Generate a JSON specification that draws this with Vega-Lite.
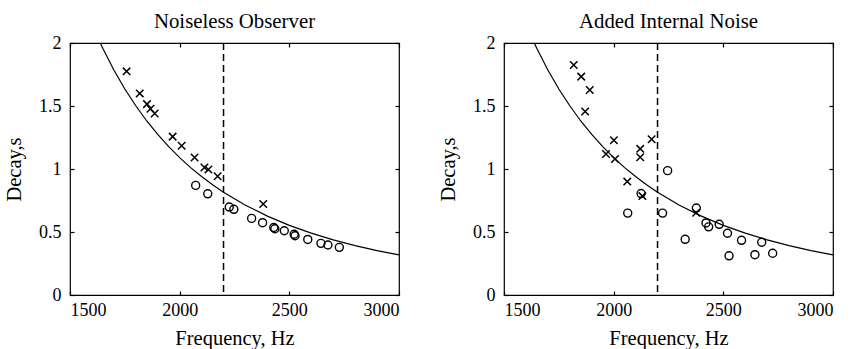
{
  "$schema": "https://vega.github.io/schema/vega-lite/v6.json",
  "background": "white",
  "padding": {"left": 3, "top": 10, "right": 5, "bottom": 0},
  "config": {
    "font": "Liberation Serif",
    "view": {"stroke": "black", "strokeWidth": 1.2},
    "axis": {
      "grid": false,
      "domain": false,
      "labelFont": "Liberation Serif",
      "titleFont": "Liberation Serif",
      "labelFontSize": 18,
      "titleFontSize": 20.5,
      "titleFontWeight": "normal",
      "labelColor": "black",
      "titleColor": "black",
      "tickColor": "black",
      "tickSize": 4,
      "offset": -4,
      "tickWidth": 1.2,
      "format": "~g"
    },
    "title": {"font": "Liberation Serif", "fontSize": 20.8, "fontWeight": "normal", "color": "black", "anchor": "middle", "offset": 1},
    "concat": {"spacing": 35}
  },
  "datasets": {
    "curve": [
      {"freq": 1638, "decay": 2.0},
      {"freq": 1650, "decay": 1.956},
      {"freq": 1700, "decay": 1.786},
      {"freq": 1750, "decay": 1.635},
      {"freq": 1800, "decay": 1.502},
      {"freq": 1850, "decay": 1.381},
      {"freq": 1900, "decay": 1.274},
      {"freq": 1950, "decay": 1.177},
      {"freq": 2000, "decay": 1.090},
      {"freq": 2050, "decay": 1.011},
      {"freq": 2100, "decay": 0.940},
      {"freq": 2150, "decay": 0.875},
      {"freq": 2200, "decay": 0.816},
      {"freq": 2300, "decay": 0.713},
      {"freq": 2400, "decay": 0.626},
      {"freq": 2500, "decay": 0.553},
      {"freq": 2600, "decay": 0.491},
      {"freq": 2700, "decay": 0.438},
      {"freq": 2800, "decay": 0.392},
      {"freq": 2900, "decay": 0.352},
      {"freq": 3000, "decay": 0.318}
    ],
    "split": [{"freq": 2200}],
    "noiseless": [
      {"freq": 1758, "decay": 1.775, "marker": "x"},
      {"freq": 1818, "decay": 1.600, "marker": "x"},
      {"freq": 1851, "decay": 1.515, "marker": "x"},
      {"freq": 1867, "decay": 1.478, "marker": "x"},
      {"freq": 1886, "decay": 1.440, "marker": "x"},
      {"freq": 1968, "decay": 1.257, "marker": "x"},
      {"freq": 2009, "decay": 1.184, "marker": "x"},
      {"freq": 2068, "decay": 1.091, "marker": "x"},
      {"freq": 2113, "decay": 1.012, "marker": "x"},
      {"freq": 2131, "decay": 0.996, "marker": "x"},
      {"freq": 2173, "decay": 0.942, "marker": "x"},
      {"freq": 2381, "decay": 0.722, "marker": "x"},
      {"freq": 2073, "decay": 0.870, "marker": "o"},
      {"freq": 2128, "decay": 0.803, "marker": "o"},
      {"freq": 2226, "decay": 0.698, "marker": "o"},
      {"freq": 2247, "decay": 0.680, "marker": "o"},
      {"freq": 2328, "decay": 0.608, "marker": "o"},
      {"freq": 2378, "decay": 0.574, "marker": "o"},
      {"freq": 2429, "decay": 0.536, "marker": "o"},
      {"freq": 2434, "decay": 0.526, "marker": "o"},
      {"freq": 2477, "decay": 0.510, "marker": "o"},
      {"freq": 2522, "decay": 0.482, "marker": "o"},
      {"freq": 2526, "decay": 0.470, "marker": "o"},
      {"freq": 2584, "decay": 0.441, "marker": "o"},
      {"freq": 2644, "decay": 0.410, "marker": "o"},
      {"freq": 2676, "decay": 0.397, "marker": "o"},
      {"freq": 2728, "decay": 0.378, "marker": "o"}
    ],
    "noise": [
      {"freq": 1818, "decay": 1.825, "marker": "x"},
      {"freq": 1852, "decay": 1.733, "marker": "x"},
      {"freq": 1891, "decay": 1.627, "marker": "x"},
      {"freq": 1870, "decay": 1.457, "marker": "x"},
      {"freq": 1965, "decay": 1.119, "marker": "x"},
      {"freq": 2001, "decay": 1.228, "marker": "x"},
      {"freq": 2006, "decay": 1.080, "marker": "x"},
      {"freq": 2062, "decay": 0.900, "marker": "x"},
      {"freq": 2121, "decay": 1.160, "marker": "x"},
      {"freq": 2121, "decay": 1.093, "marker": "x"},
      {"freq": 2173, "decay": 1.236, "marker": "x"},
      {"freq": 2131, "decay": 0.785, "marker": "x"},
      {"freq": 2376, "decay": 0.653, "marker": "x"},
      {"freq": 2064, "decay": 0.650, "marker": "o"},
      {"freq": 2125, "decay": 0.805, "marker": "o"},
      {"freq": 2246, "decay": 0.987, "marker": "o"},
      {"freq": 2223, "decay": 0.650, "marker": "o"},
      {"freq": 2326, "decay": 0.442, "marker": "o"},
      {"freq": 2377, "decay": 0.690, "marker": "o"},
      {"freq": 2421, "decay": 0.572, "marker": "o"},
      {"freq": 2433, "decay": 0.541, "marker": "o"},
      {"freq": 2481, "decay": 0.561, "marker": "o"},
      {"freq": 2519, "decay": 0.490, "marker": "o"},
      {"freq": 2526, "decay": 0.311, "marker": "o"},
      {"freq": 2583, "decay": 0.434, "marker": "o"},
      {"freq": 2644, "decay": 0.320, "marker": "o"},
      {"freq": 2675, "decay": 0.419, "marker": "o"},
      {"freq": 2725, "decay": 0.331, "marker": "o"}
    ]
  },
  "hconcat": [
    {
      "title": "Noiseless Observer",
      "width": 329,
      "height": 252,
      "layer": [
        {
          "data": {"name": "curve"},
          "mark": {"type": "line", "color": "black", "strokeWidth": 1.2},
          "encoding": {
            "x": {"field": "freq", "type": "quantitative", "scale": {"domain": [1500, 3000], "nice": false}, "axis": {"orient": "bottom", "title": "Frequency, Hz", "values": [1500, 2000, 2500, 3000], "format": "d", "labelPadding": 6, "titlePadding": 9}},
            "y": {"field": "decay", "type": "quantitative", "scale": {"domain": [0, 2], "nice": false}, "axis": {"orient": "left", "title": "Decay,s", "values": [0, 0.5, 1, 1.5, 2], "labelPadding": 9, "titlePadding": 14}}
          }
        },
        {
          "data": {"name": "split"},
          "mark": {"type": "rule", "color": "black", "strokeWidth": 1.5, "strokeDash": [7, 4]},
          "encoding": {
            "x": {"field": "freq", "type": "quantitative", "axis": {"orient": "top", "title": null, "labels": false, "values": [1500, 2000, 2500, 3000]}}
          }
        },
        {
          "data": {"name": "noiseless"},
          "transform": [{"filter": "datum.marker === 'x'"}],
          "mark": {"type": "point", "shape": "M-1,-1L1,1M-1,1L1,-1", "filled": false, "color": "black", "strokeWidth": 1.5, "size": 56, "opacity": 1},
          "encoding": {
            "x": {"field": "freq", "type": "quantitative", "axis": null},
            "y": {"field": "decay", "type": "quantitative", "axis": {"orient": "right", "title": null, "labels": false, "values": [0, 0.5, 1, 1.5, 2]}}
          }
        },
        {
          "data": {"name": "noiseless"},
          "transform": [{"filter": "datum.marker === 'o'"}],
          "mark": {"type": "point", "shape": "circle", "filled": false, "color": "black", "strokeWidth": 1.4, "size": 64, "opacity": 1},
          "encoding": {
            "x": {"field": "freq", "type": "quantitative", "axis": null},
            "y": {"field": "decay", "type": "quantitative", "axis": null}
          }
        }
      ]
    },
    {
      "title": "Added Internal Noise",
      "width": 329,
      "height": 252,
      "layer": [
        {
          "data": {"name": "curve"},
          "mark": {"type": "line", "color": "black", "strokeWidth": 1.2},
          "encoding": {
            "x": {"field": "freq", "type": "quantitative", "scale": {"domain": [1500, 3000], "nice": false}, "axis": {"orient": "bottom", "title": "Frequency, Hz", "values": [1500, 2000, 2500, 3000], "format": "d", "labelPadding": 6, "titlePadding": 9}},
            "y": {"field": "decay", "type": "quantitative", "scale": {"domain": [0, 2], "nice": false}, "axis": {"orient": "left", "title": "Decay,s", "values": [0, 0.5, 1, 1.5, 2], "labelPadding": 9, "titlePadding": 14}}
          }
        },
        {
          "data": {"name": "split"},
          "mark": {"type": "rule", "color": "black", "strokeWidth": 1.5, "strokeDash": [7, 4]},
          "encoding": {
            "x": {"field": "freq", "type": "quantitative", "axis": {"orient": "top", "title": null, "labels": false, "values": [1500, 2000, 2500, 3000]}}
          }
        },
        {
          "data": {"name": "noise"},
          "transform": [{"filter": "datum.marker === 'x'"}],
          "mark": {"type": "point", "shape": "M-1,-1L1,1M-1,1L1,-1", "filled": false, "color": "black", "strokeWidth": 1.5, "size": 56, "opacity": 1},
          "encoding": {
            "x": {"field": "freq", "type": "quantitative", "axis": null},
            "y": {"field": "decay", "type": "quantitative", "axis": {"orient": "right", "title": null, "labels": false, "values": [0, 0.5, 1, 1.5, 2]}}
          }
        },
        {
          "data": {"name": "noise"},
          "transform": [{"filter": "datum.marker === 'o'"}],
          "mark": {"type": "point", "shape": "circle", "filled": false, "color": "black", "strokeWidth": 1.4, "size": 64, "opacity": 1},
          "encoding": {
            "x": {"field": "freq", "type": "quantitative", "axis": null},
            "y": {"field": "decay", "type": "quantitative", "axis": null}
          }
        }
      ]
    }
  ]
}
